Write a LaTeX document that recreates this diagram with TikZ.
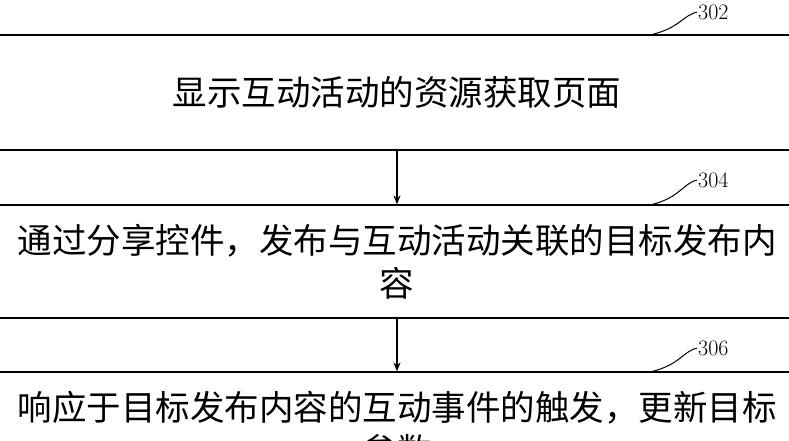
\documentclass[tikz,border=0pt]{standalone}
\usepackage{fontspec}
\newfontfamily\cjk{Noto Sans CJK SC}
\usetikzlibrary{positioning,arrows.meta}
\tikzset{
  stepbox/.style = {draw=black, line width=1.2pt, rectangle, minimum width=840pt,
    align=center, font=\cjk\fontsize{34.5}{43}\selectfont},
  steplabel/.style = {font=\fontsize{22}{24}\selectfont, inner sep=1pt, anchor=west}
}
\begin{document}
\begin{tikzpicture}[x=1pt,y=1pt,>={Stealth[length=9pt,width=7pt]}]
\useasboundingbox (0,0) rectangle (789,440);
\node [stepbox, minimum height=115pt] (s1) at (397,347.5) {显示互动活动的资源获取页面};
\node [stepbox, minimum height=113pt] (s2) at (397,178.5)
  {通过分享控件，发布与互动活动关联的目标发布内\\容};
\node [stepbox, minimum height=113pt] (s3) at (397,11.5)
  {响应于目标发布内容的互动事件的触发，更新目标\\参数};
\draw [->, line width=1.2pt] (s1.south) -- (s2.north);
\draw [->, line width=1.2pt] (s2.south) -- (s3.north);
% labels
\node [steplabel] (l1) at (697,428) {302};
\node [steplabel] (l2) at (697,260) {304};
\node [steplabel] (l3) at (697,92) {306};
\coordinate (w1) at (650,405);
\coordinate (w2) at (650,235);
\coordinate (w3) at (650,68);
\draw [line width=1pt] (w1) .. controls (680,412) and (682,424) .. (l1.west);
\draw [line width=1pt] (w2) .. controls (680,242) and (682,256) .. (l2.west);
\draw [line width=1pt] (w3) .. controls (680,75) and (682,88) .. (l3.west);
\end{tikzpicture}
\end{document}
